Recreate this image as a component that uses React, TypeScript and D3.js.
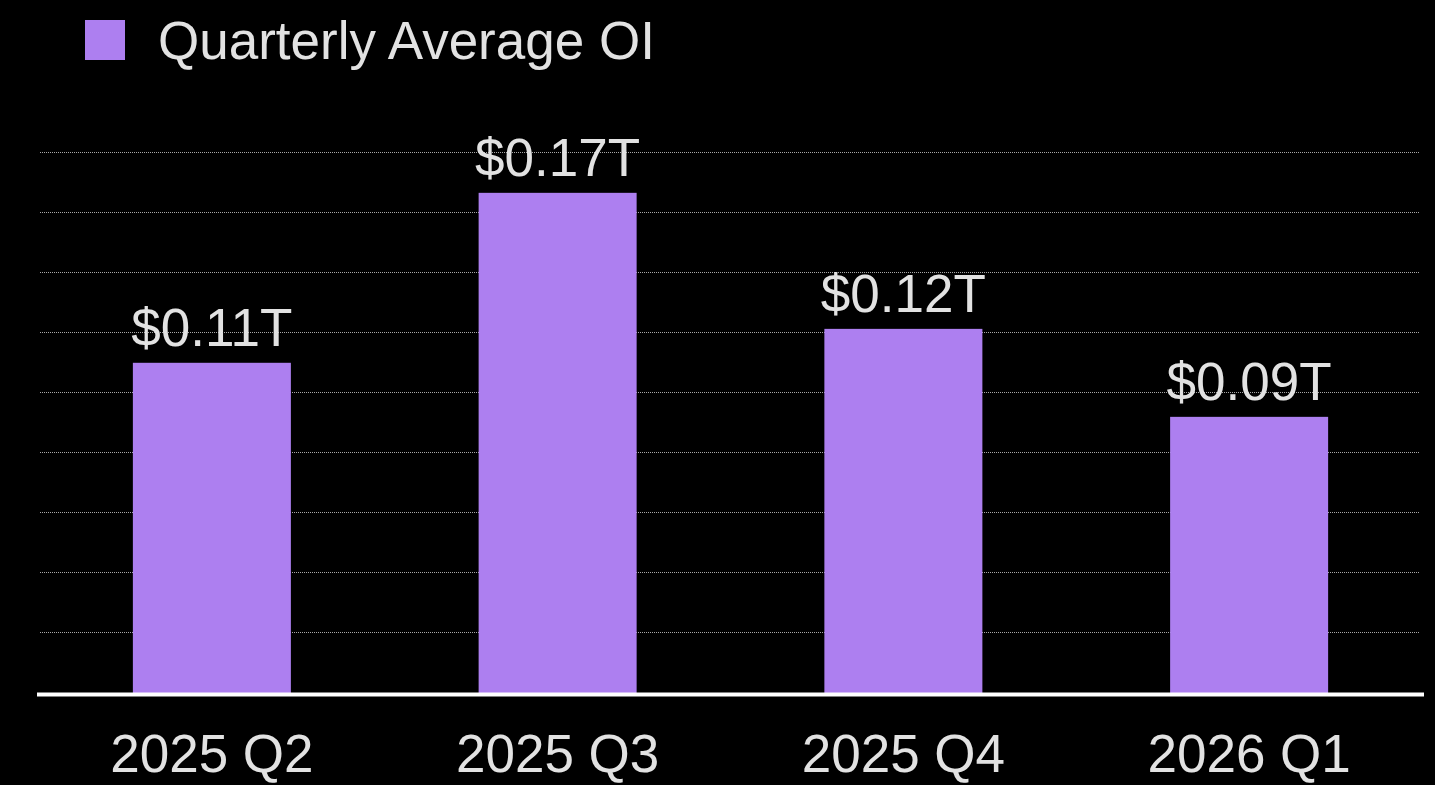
import React, { useEffect, useRef } from "react";
import * as d3 from "d3";

// Data
const quarters = ["2025 Q2", "2025 Q3", "2025 Q4", "2026 Q1"];
const avgOI = [0.1098, 0.1664, 0.1211, 0.0918]; // trillions USD
const gridTicks = [0.02, 0.04, 0.06, 0.08, 0.1, 0.12, 0.14, 0.16, 0.18];
const legendLabel = "Quarterly Average OI";

const BAR_COLOR = "#ad7ff0";
const TEXT_COLOR = "#e2e2e2";
const FONT = "'Liberation Sans', Arial, Helvetica, sans-serif";

const App = () => {
  const svgRef = useRef<SVGSVGElement>(null);

  useEffect(() => {
    document.body.style.margin = "0";
    document.body.style.background = "#000";

    const width = 1435;
    const height = 785;
    const margin = { top: 152, right: 11, bottom: 92, left: 37 };

    const svg = d3.select(svgRef.current);
    svg.selectAll("*").remove();
    svg.attr("width", width).attr("height", height);

    svg
      .append("rect")
      .attr("width", width)
      .attr("height", height)
      .attr("fill", "#000");

    // Scales
    const x = d3
      .scaleBand()
      .domain(quarters)
      .range([margin.left + 2, width - margin.right - 2])
      .paddingInner(0)
      .paddingOuter(0);

    const y = d3
      .scaleLinear()
      .domain([0, 0.18])
      .range([height - margin.bottom - 0.5, margin.top]);

    const barWidth = x.bandwidth() * 0.457;

    // Grid lines
    svg
      .append("g")
      .selectAll("line")
      .data(gridTicks)
      .enter()
      .append("line")
      .attr("x1", margin.left + 3)
      .attr("x2", width - margin.right - 4)
      .attr("y1", (d) => Math.round(y(d)) + 0.5)
      .attr("y2", (d) => Math.round(y(d)) + 0.5)
      .attr("stroke", "#a8a8a8")
      .attr("stroke-width", 1)
      .attr("stroke-dasharray", "1,1");

    // Bars
    svg
      .append("g")
      .selectAll("rect")
      .data(quarters)
      .enter()
      .append("rect")
      .attr("x", (d) => (x(d) as number) + x.bandwidth() / 2 - barWidth / 2)
      .attr("y", (d, i) => y(avgOI[i]))
      .attr("width", barWidth)
      .attr("height", (d, i) => y(0) - y(avgOI[i]) + 1)
      .attr("fill", BAR_COLOR);

    // Baseline
    svg
      .append("line")
      .attr("x1", margin.left)
      .attr("x2", width - margin.right)
      .attr("y1", y(0) + 2)
      .attr("y2", y(0) + 2)
      .attr("stroke", "#fff")
      .attr("stroke-width", 4);

    // Value labels
    svg
      .append("g")
      .selectAll("text")
      .data(quarters)
      .enter()
      .append("text")
      .attr("x", (d) => (x(d) as number) + x.bandwidth() / 2)
      .attr("y", (d, i) => y(avgOI[i]) - 17)
      .attr("text-anchor", "middle")
      .style("font-family", FONT)
      .style("font-size", "53px")
      .style("fill", TEXT_COLOR)
      .text((d, i) => `$${avgOI[i].toFixed(2)}T`);

    // X axis labels
    svg
      .append("g")
      .selectAll("text")
      .data(quarters)
      .enter()
      .append("text")
      .attr("x", (d) => (x(d) as number) + x.bandwidth() / 2)
      .attr("y", 772)
      .attr("text-anchor", "middle")
      .style("font-family", FONT)
      .style("font-size", "53px")
      .style("fill", TEXT_COLOR)
      .text((d) => d);

    // Legend
    const legend = svg.append("g");
    legend
      .append("rect")
      .attr("x", 85)
      .attr("y", 20)
      .attr("width", 40)
      .attr("height", 40)
      .attr("fill", BAR_COLOR);
    legend
      .append("text")
      .attr("x", 158)
      .attr("y", 59)
      .style("font-family", FONT)
      .style("font-size", "53px")
      .style("fill", TEXT_COLOR)
      .text(legendLabel);
  }, []);

  return <svg ref={svgRef} style={{ display: "block" }}></svg>;
};

export default App;
